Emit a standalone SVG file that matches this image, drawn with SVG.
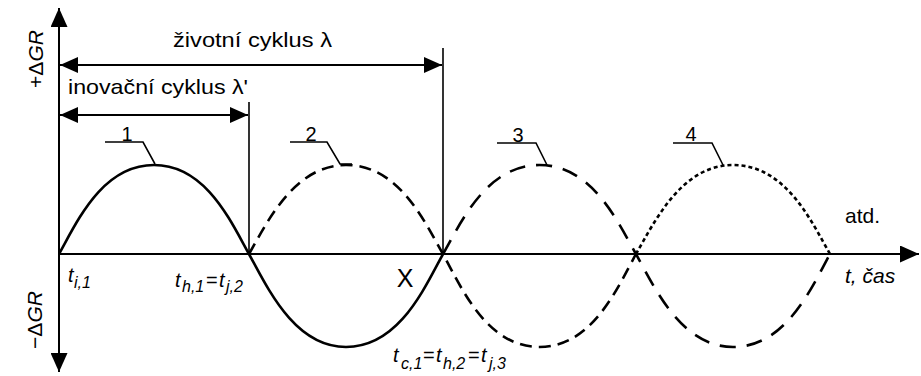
<svg xmlns="http://www.w3.org/2000/svg" width="921" height="376" viewBox="0 0 921 376">
<style>
text{font-family:"Liberation Sans",Arial,sans-serif;fill:#000}
.lbl{font-size:21px}
.num{font-size:20px}
.it{font-style:italic}
.sub{font-size:16px;font-style:italic}
.ax{stroke:#000;stroke-width:2;fill:none}
.ln{stroke:#000;stroke-width:1.6;fill:none}
.c{stroke:#000;stroke-width:2.6;fill:none;stroke-linecap:butt}
.d2{stroke-dasharray:12 7}
.d3{stroke-dasharray:16 11}
.d4{stroke-dasharray:4 3}
</style>
<defs>
<marker id="ah" viewBox="0 0 18 16" refX="18" refY="8" markerWidth="18" markerHeight="16" markerUnits="userSpaceOnUse" orient="auto-start-reverse">
<path d="M0,0 L18,8 L0,16 z" fill="#000"/>
</marker>
<marker id="aa" viewBox="0 0 19 17" refX="19" refY="8.5" markerWidth="19" markerHeight="17" markerUnits="userSpaceOnUse" orient="auto-start-reverse">
<path d="M0,0 L19,8.5 L0,17 z" fill="#000"/>
</marker>
</defs>
<rect width="921" height="376" fill="#fff"/>

<g id="axes">
<line class="ax" x1="59" y1="8" x2="59" y2="372" marker-start="url(#aa)" marker-end="url(#aa)"/>
<line class="ax" x1="59" y1="254" x2="919" y2="254" marker-end="url(#aa)"/>
<text class="lbl" transform="translate(43,59) rotate(-90)" text-anchor="middle" font-size="22">+Δ<tspan class="it">GR</tspan></text>
<text class="lbl" transform="translate(42,320) rotate(-90)" text-anchor="middle" font-size="22">−Δ<tspan class="it">GR</tspan></text>
<text class="lbl it" x="845" y="283" font-size="22">t, čas</text>
</g>

<g id="connectors">
<line class="ln" x1="249" y1="102" x2="249" y2="254"/>
<line class="ln" x1="443" y1="48" x2="443" y2="254"/>
<line class="ax" x1="60" y1="65" x2="442" y2="65" marker-start="url(#ah)" marker-end="url(#ah)"/>
<line class="ax" x1="60" y1="115" x2="248" y2="115" marker-start="url(#ah)" marker-end="url(#ah)"/>
<polyline class="ln" points="105,142 143,142 155,164"/>
<polyline class="ln" points="290,142 327,142 340,164 352,164"/>
<polyline class="ln" points="497,143 536,143 547,165"/>
<polyline class="ln" points="673,143 712,143 723,165"/>
</g>

<g id="curve1">
<path class="c" d="M59,254 C77,222 102,165 154,165 C206,165 231,222 249,254 C267.4,287.5 294.4,347 346,347 C399.1,347 424.6,287.5 443,254"/>
</g>
<g id="curve2">
<path class="c d2" d="M249,254 C267.4,222 294.4,165 346,165 C399.1,165 424.6,222 443,254 C461.3,287.5 486.7,347 539.5,347 C592.3,347 617.7,287.5 636,254"/>
</g>
<g id="curve3">
<path class="c d3" d="M443,254 C461.3,222 486.7,165 539.5,165 C592.3,165 617.7,222 636,254 C654.4,287.5 681.4,347 733,347 C786.1,347 811.6,287.5 830,254"/>
</g>
<g id="curve4">
<path class="c d4" d="M636,254 C654.4,222 681.4,165 733,165 C786.1,165 811.6,222 830,254"/>
</g>

<g id="labels">
<text class="lbl" x="173" y="47" textLength="159" lengthAdjust="spacingAndGlyphs">životní cyklus λ</text>
<text class="lbl" x="68" y="94" textLength="180" lengthAdjust="spacingAndGlyphs">inovační cyklus λ'</text>
<text class="num" x="127" y="141" text-anchor="middle">1</text>
<text class="num" x="311" y="141" text-anchor="middle">2</text>
<text class="num" x="518" y="142" text-anchor="middle">3</text>
<text class="num" x="691" y="141" text-anchor="middle">4</text>
<text class="lbl" x="845" y="223" font-size="22">atd.</text>
<text x="405" y="287" text-anchor="middle" font-size="25">X</text>
<text font-size="20"><tspan class="it" x="68" y="282">t</tspan><tspan class="sub" x="74" y="288">i,1</tspan></text>
<text font-size="20"><tspan class="it" x="175" y="287">t</tspan><tspan class="sub" x="182" y="292">h,1</tspan><tspan x="206" y="287">=</tspan><tspan class="it" x="219" y="287">t</tspan><tspan class="sub" x="226" y="292">j,2</tspan></text>
<text font-size="20"><tspan class="it" x="393" y="362">t</tspan><tspan class="sub" x="401" y="369">c,1</tspan><tspan x="423" y="362">=</tspan><tspan class="it" x="436" y="362">t</tspan><tspan class="sub" x="443" y="369">h,2</tspan><tspan x="468" y="362">=</tspan><tspan class="it" x="481" y="362">t</tspan><tspan class="sub" x="489" y="369">j,3</tspan></text>
</g>
</svg>
